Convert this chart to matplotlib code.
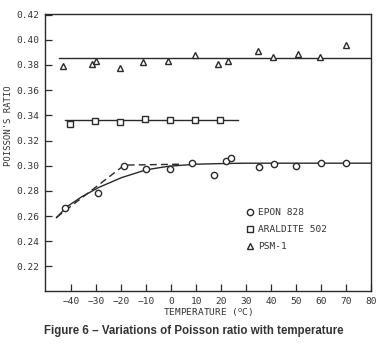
import numpy as np
import matplotlib
matplotlib.use("Agg")
import matplotlib.pyplot as plt

# EPON 828 (circles)
epon_t = [-42.4, -29.2, -18.8, -10, -0.4, 8.4, 16.9, 22, 24, 35.2, 41.2, 50, 60, 70]
epon_v = [0.2667, 0.2786, 0.300, 0.297, 0.297, 0.302, 0.293, 0.304, 0.306, 0.299, 0.301, 0.300, 0.302, 0.302]
# ARALDITE 502 (squares)
aral_t = [-40.4, -30.4, -20.4, -10.4, -0.4, 9.6, 19.6]
aral_v = [0.333, 0.3357, 0.335, 0.337, 0.3365, 0.3365, 0.336]
# PSM-1 (triangles)
psm_t = [-43.2, -31.6, -30, -20.4, -11.2, -1.2, 9.6, 18.8, 22.8, 34.8, 40.8, 50.8, 59.6, 70]
psm_v = [0.379, 0.381, 0.383, 0.378, 0.382, 0.383, 0.388, 0.381, 0.383, 0.391, 0.386, 0.389, 0.386, 0.396]

# hand-drawn fit lines
psm_fit_t = [-45, 80]
psm_fit_v = [0.3855, 0.3855]
aral_fit_t = [-42.4, 26.8]
aral_fit_v = [0.3365, 0.3365]
epon_fit_t = [-46, -42, -36, -29, -20, -10, -1, 10, 20, 30, 80]
epon_fit_v = [0.2587, 0.2672, 0.2752, 0.2828, 0.2905, 0.2968, 0.2996, 0.3012, 0.3017, 0.302, 0.302]
epon_dash_t = [-46, -18.8, 4]
epon_dash_v = [0.259, 0.3005, 0.3012]

ink = "#2a2a2a"
mono = "DejaVu Sans Mono"

fig = plt.figure(figsize=(3.87, 3.48), dpi=100)
ax = fig.add_axes([0.1163, 0.1638, 0.8424, 0.796])

ax.plot(psm_fit_t, psm_fit_v, color=ink, lw=1.0)
ax.plot(aral_fit_t, aral_fit_v, color=ink, lw=1.0)
ax.plot(epon_fit_t, epon_fit_v, color=ink, lw=1.0)
ax.plot(epon_dash_t, epon_dash_v, color=ink, lw=1.0, ls=(0, (5, 3)))

mk = dict(mfc="white", mec=ink, mew=1.0, ms=4.5, ls="none")
ax.plot(epon_t, epon_v, marker="o", label="EPON 828", **mk)
ax.plot(aral_t, aral_v, marker="s", label="ARALDITE 502", **mk)
ax.plot(psm_t, psm_v, marker="^", label="PSM-1", **mk)

ax.set_xlim(-50.6, 79.8)
ax.set_ylim(0.2005, 0.4205)
ax.set_xticks(np.arange(-40, 81, 10))
ax.set_yticks(np.arange(0.22, 0.421, 0.02))
ax.set_yticklabels([f"{v:.2f}" for v in np.arange(0.22, 0.421, 0.02)])
ax.tick_params(direction="in", length=5, width=0.9, color=ink, labelcolor="#333333",
               labelsize=6.8, pad=4)
for lab in ax.get_xticklabels() + ax.get_yticklabels():
    lab.set_fontfamily(mono)
for s in ax.spines.values():
    s.set_color(ink)
    s.set_linewidth(1.0)

ax.set_xlabel("TEMPERATURE ($^{\\mathrm{o}}$C)", fontsize=6.8, family=mono, color="#333333")
ax.xaxis.set_label_coords(0.5, -0.055)
ax.set_ylabel("POISSON'S RATIO", fontsize=6.5, family=mono, color="#333333")
ax.yaxis.set_label_coords(-0.097, 0.596)

leg = ax.legend(loc="upper left", bbox_to_anchor=(0.588, 0.33), frameon=False,
                prop={"family": mono, "size": 6.8}, handlelength=1.0, handletextpad=0.4,
                labelspacing=0.85, labelcolor="#333333")

fig.text(0.5, 0.05, "Figure 6 \u2013 Variations of Poisson ratio with temperature",
         ha="center", va="center", fontsize=8.3, fontweight="bold",
         family="Liberation Sans", color="#333333")

fig.savefig("out.png", dpi=100)
